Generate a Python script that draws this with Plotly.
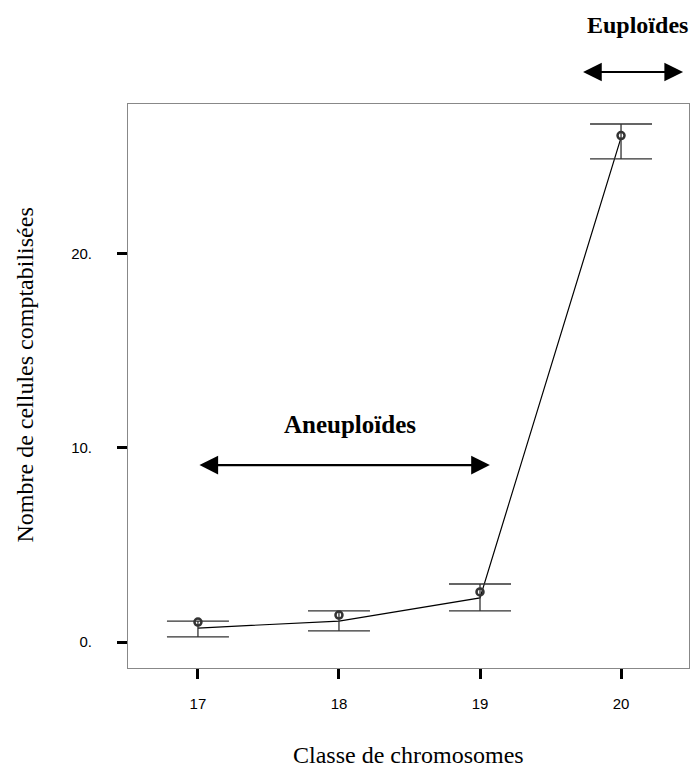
import plotly.graph_objects as go

# Data
classes = [17, 18, 19, 20]
means = [1.03, 1.39, 2.58, 26.1]
err_upper = [1.08, 1.60, 2.99, 26.7]
err_lower = [0.26, 0.57, 1.60, 24.9]
trend = [0.72, 1.08, 2.27, 26.0]
y_tickvals = [0, 10, 20]
y_ticktext = ["0.", "10.", "20."]
x_ticktext = ["17", "18", "19", "20"]

plus = [u - m for u, m in zip(err_upper, means)]
minus = [m - l for m, l in zip(means, err_lower)]

fig = go.Figure()
fig.add_trace(go.Scatter(
    x=classes, y=trend, mode="lines",
    line=dict(color="black", width=1.2), showlegend=False, hoverinfo="skip"))
fig.add_trace(go.Scatter(
    x=classes, y=means, mode="markers",
    marker=dict(symbol="circle-open", size=7, color="#333", line=dict(width=2.5, color="#333")),
    error_y=dict(type="data", symmetric=False, array=plus, arrayminus=minus,
                 color="#333", thickness=1.3, width=31),
    showlegend=False))

serif = "Liberation Serif, Times New Roman, serif"
sans = "Liberation Sans, Arial, sans-serif"

fig.update_layout(
    width=691, height=773,
    margin=dict(l=128, r=2, t=104, b=105),
    plot_bgcolor="white", paper_bgcolor="white",
    xaxis=dict(range=[16.504, 20.482], tickvals=classes, ticktext=x_ticktext,
               showgrid=False, zeroline=False, showline=True, mirror=True,
               linecolor="#888", linewidth=1,
               ticks="outside", ticklen=10, tickwidth=3, tickcolor="black",
               ticklabelstandoff=12,
               tickfont=dict(family=sans, size=15, color="black")),
    yaxis=dict(range=[-1.34, 27.73], tickvals=y_tickvals, ticktext=y_ticktext,
               showgrid=False, zeroline=False, showline=True, mirror=True,
               linecolor="#888", linewidth=1,
               ticks="outside", ticklen=10, tickwidth=3, tickcolor="black",
               ticklabelstandoff=22,
               tickfont=dict(family=sans, size=15, color="black")),
    annotations=[
        dict(text="Classe de chromosomes", xref="paper", yref="paper",
             x=0.5, y=-0.154, showarrow=False, xanchor="center", yanchor="middle",
             font=dict(family=serif, size=24, color="black")),
        dict(text="Nombre de cellules comptabilisées", xref="paper", yref="paper",
             x=-0.184, y=0.52, showarrow=False, textangle=-90,
             xanchor="center", yanchor="middle",
             font=dict(family=serif, size=24, color="black")),
        dict(text="<b>Aneuploïdes</b>", xref="x", yref="y", x=18.08, y=11.2,
             showarrow=False, font=dict(family=serif, size=25, color="black")),
        dict(text="<b>Euploïdes</b>", xref="x", yref="paper", x=20.12, y=1.14,
             showarrow=False, yanchor="middle",
             font=dict(family=serif, size=24, color="black")),
        dict(text="", xref="x", yref="y", axref="x", ayref="y",
             x=19.07, y=9.12, ax=17.0, ay=9.12, showarrow=True,
             arrowside="end+start", arrowhead=2, arrowsize=1.7, arrowwidth=2.2,
             arrowcolor="black"),
        dict(text="", xref="x", yref="paper", axref="x", ayref="pixel",
             x=20.44, y=1.0567, ax=19.72, ay=0, showarrow=True,
             arrowside="end+start", arrowhead=2, arrowsize=1.7, arrowwidth=2.2,
             arrowcolor="black"),
    ],
)

fig.write_html("out.html", config={"displayModeBar": False},
               post_script="document.body.style.margin='0';document.body.style.overflow='hidden';")
